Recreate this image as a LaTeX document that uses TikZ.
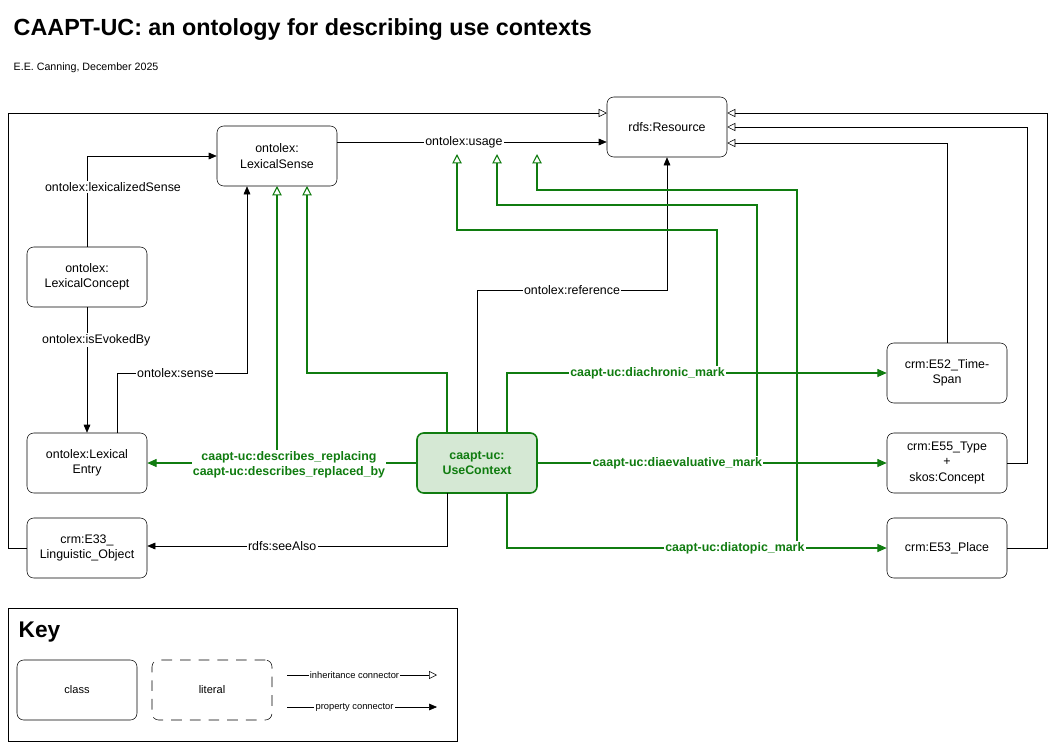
\documentclass[tikz,border=0pt]{standalone}
\usepackage{fontspec}
\setmainfont{Liberation Sans}
\usetikzlibrary{arrows.meta}
\definecolor{gr}{HTML}{107C10}
\definecolor{grfill}{HTML}{D5E8D4}
\begin{document}
\begin{tikzpicture}[x=0.75pt,y=-0.75pt,
  cls/.style={draw,rounded corners=5pt,minimum width=90pt,minimum height=45pt,align=center,font=\fontsize{9.3}{11.5}\selectfont,inner sep=1pt},
  lbl/.style={fill=white,inner sep=1pt,font=\fontsize{9.3}{11.5}\selectfont},
  glbl/.style={fill=white,inner sep=1pt,font=\fontsize{9.3}{11.5}\selectfont\bfseries,text=gr,align=center},
  prop/.style={-{Triangle[length=6pt,width=5pt]}},
  inh/.style={-{Triangle[open,length=6pt,width=6pt]}},
  gprop/.style={draw=gr,thick,-{Triangle[length=7pt,width=6pt]},gr},
  ginh/.style={draw=gr,thick,-{Triangle[open,length=7pt,width=7pt]}},
]
\useasboundingbox (0,0) rectangle (1056,743);
\node[anchor=west,font=\fontsize{17.5}{21}\selectfont\bfseries] (title) at (9,30) {CAAPT-UC: an ontology for describing use contexts};
\node[anchor=west,font=\fontsize{8}{10}\selectfont] (sub) at (9,68) {E.E. Canning, December 2025};

\node[cls] (res) at (667,127) {rdfs:Resource};
\node[cls] (sense) at (277,156) {ontolex:\\LexicalSense};
\node[cls] (concept) at (87,277) {ontolex:\\LexicalConcept};
\node[cls] (entry) at (87,463) {ontolex:Lexical\\Entry};
\node[cls] (e33) at (87,548) {crm:E33\_\\Linguistic\_Object};
\node[cls,draw=gr,very thick,fill=grfill,font=\fontsize{9.3}{11.5}\selectfont\bfseries,text=gr] (uc) at (477,463) {caapt-uc:\\UseContext};
\node[cls] (e52) at (947,373) {crm:E52\_Time-\\Span};
\node[cls] (e55) at (947,463) {crm:E55\_Type\\+\\skos:Concept};
\node[cls] (e53) at (947,548) {crm:E53\_Place};

% inheritance to rdfs:Resource
\draw[inh] (e33.west) -- (8,548) -- (8,113) -- (res.west |- 0,113);
\draw[inh] (e53.east) -- (1047,548) -- (1047,113) -- (res.east |- 0,113);
\draw[inh] (e55.east) -- (1027,463) -- (1027,127) -- (res.east |- 0,127);
\draw[inh] (e52.north) -- (947,143) -- (res.east |- 0,143);

% black properties
\draw[prop] (sense.east |- 0,142) -- node[lbl,pos=0.47] (usage) {ontolex:usage} (res.west |- 0,142);
\draw[prop] (concept.north) -- (87,156) -- (sense.west);
\node[lbl] (lz) at (113,187) {ontolex:lexicalizedSense};
\draw[prop] (concept.south) -- node[lbl,pos=0.26,xshift=7pt] (ev) {ontolex:isEvokedBy} (entry.north);
\draw[prop] (117,433) -- (117,373) -- node[lbl,pos=0.45] (sl) {ontolex:sense} (247,373) -- (sense.south -| 247,0);
\draw[prop] (uc.north) -- (477,290) -- node[lbl] (rl) {ontolex:reference} (667,290) -- (res.south);
\draw[prop] (447,493) -- (447,546) -- node[lbl,pos=0.55] (sa) {rdfs:seeAlso} (e33.east |- 0,546);

% green
\draw[ginh] (447,433) -- (447,373) -- (307,373) -- (307,186);
\draw[ginh] (uc.west) -- (277,463) -- (277,186);
\draw[gprop] (uc.west) -- (entry.east);
\node[glbl] (dr) at (289,465) {caapt-uc:describes\_replacing\\caapt-uc:describes\_replaced\_by};

\coordinate (c1) at (717,373);
\coordinate (c2) at (757,463);
\coordinate (c3) at (797,548);
\draw[ginh] (c1) -- (717,230) -- (457,230) -- (457,154);
\draw[ginh] (c2) -- (757,205) -- (497,205) -- (497,154);
\draw[ginh] (c3) -- (797,190) -- (537,190) -- (537,154);

\draw[gprop] (507,433) -- (507,373) -- node[glbl,pos=0.37] (dia) {caapt-uc:diachronic\_mark} (e52.west);
\draw[gprop] (uc.east) -- node[glbl,pos=0.4] (dev) {caapt-uc:diaevaluative\_mark} (e55.west);
\draw[gprop] (507,493) -- (507,548) -- node[glbl,pos=0.6] (dt) {caapt-uc:diatopic\_mark} (e53.west);

% key
\draw (8,608) rectangle (457,741);
\node[anchor=west,font=\fontsize{17}{20}\selectfont\bfseries] (key) at (14,632) {Key};
\node[cls,font=\fontsize{8.3}{10}\selectfont] (kc) at (77,690) {class};
\node[cls,dashed,dash pattern=on 8pt off 6pt,font=\fontsize{8.3}{10}\selectfont] (kl) at (212,690) {literal};
\coordinate (i1) at (287,675); \coordinate (i2) at (437,675);
\coordinate (p1) at (287,707); \coordinate (p2) at (437,707);
\draw[inh] (i1) -- node[lbl,pos=0.45,font=\fontsize{7}{8}\selectfont] (ki) {inheritance connector} (i2);
\draw[prop] (p1) -- node[lbl,pos=0.45,font=\fontsize{7}{8}\selectfont] (kp) {property connector} (p2);
\end{tikzpicture}
\end{document}
